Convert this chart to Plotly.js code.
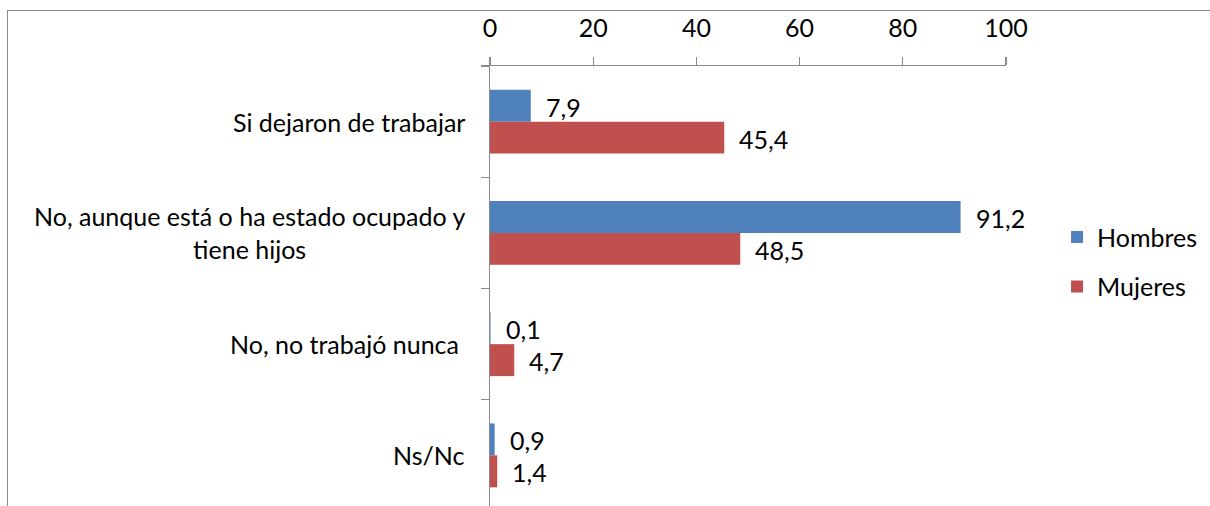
<!DOCTYPE html>
<html>
<head>
<meta charset="utf-8">
<script src="https://cdn.plot.ly/plotly-3.0.1.min.js"></script>
<style>
html,body{margin:0;padding:0;overflow:hidden;background:#fff;width:1210px;height:506px;}
#frame{position:absolute;left:7px;top:10px;width:1230px;height:540px;border:1.5px solid #8a8a8a;box-sizing:border-box;}
#chart{position:absolute;left:0;top:0;width:1210px;height:530px;}
</style>
</head>
<body>
<div id="chart"></div>
<div id="frame"></div>
<script>
const categories = ["Si dejaron de trabajar", "No, aunque está o ha estado ocupado y<br>tiene hijos", "No, no trabajó nunca ", "Ns/Nc"];
const hombres = [7.9, 91.2, 0.1, 0.9];
const mujeres = [45.4, 48.5, 4.7, 1.4];
const hombresLabels = ["7,9", "91,2", "0,1", "0,9"];
const mujeresLabels = ["45,4", "48,5", "4,7", "1,4"];
const xTicks = [0, 20, 40, 60, 80, 100];

const FONT = "Lato, 'Open Sans', sans-serif";
const FS = 25;

const traces = [
  {type: "bar", orientation: "h", name: "Hombres", y: categories, x: hombres,
   marker: {color: "#4F81BD"}, legendgroup: "h", hoverinfo: "x"},
  {type: "bar", orientation: "h", name: "Mujeres", y: categories, x: mujeres,
   marker: {color: "#C0504D"}, legendgroup: "m", hoverinfo: "x"}
];

const annotations = [];
categories.forEach((c, i) => {
  annotations.push({x: 0, xref: "paper", y: c, yref: "y", text: c, showarrow: false,
    xanchor: "right", align: "center", xshift: -23, font: {family: FONT, size: FS, color: "#000"}});
  annotations.push({x: hombres[i], xref: "x", y: c, yref: "y", text: hombresLabels[i], showarrow: false,
    xanchor: "left", xshift: 13, yshift: 15, font: {family: FONT, size: FS, color: "#000"}});
  annotations.push({x: mujeres[i], xref: "x", y: c, yref: "y", text: mujeresLabels[i], showarrow: false,
    xanchor: "left", xshift: 13, yshift: -17, font: {family: FONT, size: FS, color: "#000"}});
});

const layout = {
  width: 1210, height: 530,
  margin: {l: 490, r: 204, t: 66, b: 19, autoexpand: false},
  paper_bgcolor: "rgba(0,0,0,0)", plot_bgcolor: "rgba(0,0,0,0)",
  barmode: "group", bargap: 0.425, bargroupgap: 0,
  font: {family: FONT, size: FS, color: "#000"},
  xaxis: {side: "top", range: [0, 100], tickvals: xTicks, ticktext: xTicks.map(String),
    showgrid: false, zeroline: false, showline: true, linecolor: "#8a8a8a", linewidth: 1.5,
    ticks: "outside", ticklen: 8, tickcolor: "#8a8a8a", tickwidth: 1.2, ticklabelstandoff: 10,
    tickfont: {family: FONT, size: FS, color: "#000"}, fixedrange: true},
  yaxis: {type: "category", autorange: "reversed", showticklabels: false,
    showgrid: false, zeroline: false, showline: true, linecolor: "#8a8a8a", linewidth: 1.5,
    ticks: "outside", tickson: "boundaries", ticklen: 8, tickcolor: "#8a8a8a", tickwidth: 1.2,
    range: [3.5, -0.5], fixedrange: true},
  legend: {xref: "container", x: 0.8736, xanchor: "left", y: 0.56, yanchor: "middle", traceorder: "grouped",
    tracegroupgap: 14, font: {family: FONT, size: FS, color: "#000"}, bgcolor: "rgba(0,0,0,0)"},
  annotations: annotations,
  showlegend: true
};

Plotly.newPlot("chart", traces, layout, {displayModeBar: false, staticPlot: true});
</script>
</body>
</html>
